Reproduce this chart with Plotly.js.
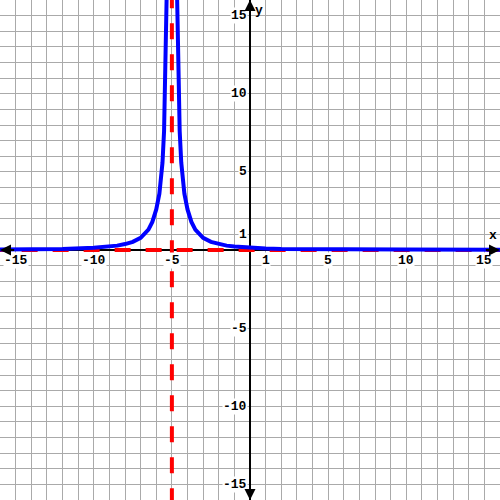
<!DOCTYPE html>
<html>
<head>
<meta charset="utf-8">
<script src="https://cdn.plot.ly/plotly-3.0.1.min.js"></script>
<style>html,body{margin:0;padding:0;background:#fff;}#chart{width:500px;height:500px;}</style>
</head>
<body>
<div id="chart"></div>
<script>
// Blue curve, left branch
const leftX = [-16, -14, -12, -10, -9, -8.5, -8, -7.5, -7, -6.75, -6.5, -6.25, -6, -5.8, -5.7, -5.6, -5.5, -5.45, -5.4, -5.35, -5.3];
const leftY = [0.035, 0.045, 0.07, 0.14, 0.22, 0.28, 0.38, 0.52, 0.78, 1.0, 1.3, 1.8, 2.6, 3.6, 4.5, 5.6, 7.6, 9.5, 12, 15, 18];
// Blue curve, right branch
const rightX = [-4.7, -4.65, -4.6, -4.55, -4.5, -4.4, -4.3, -4.2, -4, -3.75, -3.5, -3.25, -3, -2.5, -2, -1.5, -1, 0, 1, 2, 4, 7, 10, 16];
const rightY = [18, 15, 12, 9.5, 7.6, 5.6, 4.5, 3.6, 2.6, 1.8, 1.3, 1.0, 0.78, 0.52, 0.38, 0.28, 0.22, 0.14, 0.1, 0.07, 0.05, 0.035, 0.025, 0.015];
// Asymptotes
const vAsymX = -5;
const hAsymY = 0;
// Tick labels
const xTickVals = [-15, -10, -5, 1, 5, 10, 15];
const yTickVals = [15, 10, 5, 1, -5, -10, -15];
const xRange = [-16, 16];
const yRange = [-16, 16];

const traces = [
  {x: [xRange[0], xRange[1]], y: [0, 0], mode: 'lines', line: {color: '#000', width: 2}, hoverinfo: 'skip'},
  {x: [0, 0], y: [yRange[0], yRange[1]], mode: 'lines', line: {color: '#000', width: 2}, hoverinfo: 'skip'},
  {x: [-16.6, 17], y: [hAsymY, hAsymY], mode: 'lines', line: {color: '#ff0000', width: 4, dash: '16px,15px'}, hoverinfo: 'skip'},
  {x: [vAsymX, vAsymX], y: [16.5, -17], mode: 'lines', line: {color: '#ff0000', width: 4, dash: '16px,15px'}, hoverinfo: 'skip'},
  {x: leftX, y: leftY, mode: 'lines', line: {color: '#0000ff', width: 4}, hoverinfo: 'skip'},
  {x: rightX, y: rightY, mode: 'lines', line: {color: '#0000ff', width: 4}, hoverinfo: 'skip'}
];

const lblFont = {family: 'Liberation Mono, Courier New, monospace', size: 13, color: '#000'};
const annotations = [];
xTickVals.forEach(v => {
  annotations.push({x: v, y: 0, xref: 'x', yref: 'y', text: '<b>' + v + '</b>', showarrow: false,
    yanchor: 'top', xanchor: 'center', yshift: -2, font: lblFont, bgcolor: '#fff', borderpad: 0});
});
yTickVals.forEach(v => {
  annotations.push({x: 0, y: v, xref: 'x', yref: 'y', text: '<b>' + v + '</b>', showarrow: false,
    yanchor: 'middle', xanchor: 'right', xshift: -2, font: lblFont, bgcolor: '#fff', borderpad: 0});
});
annotations.push({x: xRange[1], y: 0, xref: 'x', yref: 'y', text: '<b>x</b>', showarrow: false,
  xanchor: 'right', yanchor: 'bottom', xshift: -1, yshift: 5, font: lblFont});
annotations.push({x: 0, y: yRange[1], xref: 'x', yref: 'y', text: '<b>y</b>', showarrow: false,
  xanchor: 'left', yanchor: 'top', xshift: 3, yshift: -1, font: lblFont});
const arrowDefs = [
  [xRange[1], 0, 15, 0], [xRange[0], 0, -15, 0],
  [0, yRange[1], 0, 15], [0, yRange[0], 0, -15]
];
arrowDefs.forEach(a => {
  annotations.push({x: a[0], y: a[1], ax: a[2], ay: a[3], xref: 'x', yref: 'y', axref: 'x', ayref: 'y',
    text: '', showarrow: true, arrowhead: 2, arrowsize: 1.1, arrowwidth: 2, arrowcolor: '#000', standoff: 0});
});

const layout = {
  width: 500, height: 500,
  margin: {l: 0, r: 0, t: 0, b: 0},
  showlegend: false,
  paper_bgcolor: '#fff', plot_bgcolor: '#fff',
  xaxis: {range: xRange, dtick: 1, tick0: 0, showticklabels: false, ticks: '', gridcolor: '#aaaaaa', gridwidth: 1,
    zeroline: false, showline: true, mirror: true, linecolor: '#000', linewidth: 1, fixedrange: true},
  yaxis: {range: yRange, dtick: 1, tick0: 0, showticklabels: false, ticks: '', gridcolor: '#aaaaaa', gridwidth: 1,
    zeroline: false, showline: true, mirror: true, linecolor: '#000', linewidth: 1, fixedrange: true},
  annotations: annotations
};

Plotly.newPlot('chart', traces, layout, {displayModeBar: false, staticPlot: true});
</script>
</body>
</html>
